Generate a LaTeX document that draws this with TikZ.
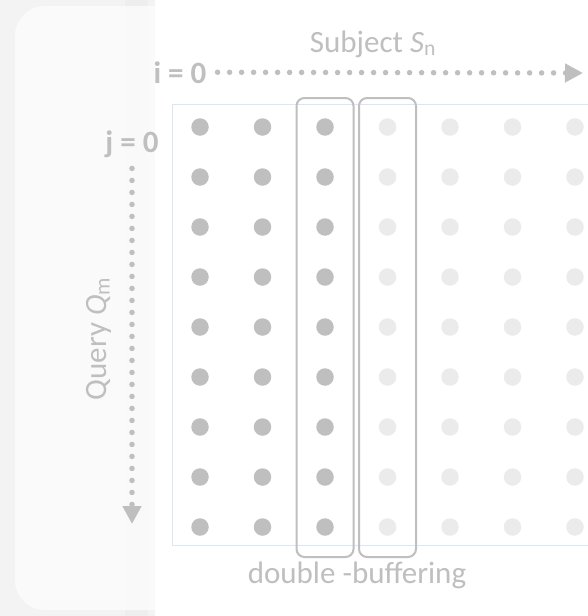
\documentclass[tikz,border=0pt]{standalone}
\usepackage{fontspec}
\setmainfont{Carlito}
\usetikzlibrary{arrows.meta}
\definecolor{dotgrey}{HTML}{BFBFBF}
\definecolor{dotpale}{HTML}{EBEBEB}
\definecolor{frameblue}{HTML}{DCE6F2}
\definecolor{panelgrey}{HTML}{F3F3F3}
\definecolor{bandgrey}{HTML}{EEEEEE}
\newcommand{\lblsize}{\fontsize{31}{36}\selectfont}

\begin{document}
\begin{tikzpicture}[x=1pt,y=-1pt,
	cell/.style={circle,inner sep=0pt,minimum size=17.5pt},
	colbox/.style={draw=dotgrey,line width=2pt,rounded corners=8pt},
	lbl/.style={text=dotgrey,inner sep=2pt,font=\lblsize},
	idx/.style={lbl,font=\lblsize\bfseries},
	dotline/.style={draw=dotgrey,line width=5.5pt,line cap=round,
		dash pattern=on 0pt off 12pt,
		-{Triangle[length=18pt,width=18pt]}}]
	\useasboundingbox (0,0) rectangle (587,616);
	% backdrop
	\fill[white] (0,0) rectangle (587,616);
	\fill[panelgrey] (0,0) rectangle (155,616);
	\fill[bandgrey] (125,0) rectangle (148,616);
	\fill[white,opacity=0.65,rounded corners=30pt] (15,6) rectangle (640,610);

	% grid of cells
	\draw[frameblue,line width=1pt] (172,104) rectangle (620,545);
	\foreach \r in {1,...,9}{
		\foreach \c in {1,...,7}{
			\ifnum\c<4 \def\dc{dotgrey}\else\def\dc{dotpale}\fi
			\node[cell,fill=\dc] at ({137.5+62.5*\c},{77+50*\r})(d-\r-\c){};
		}
	}
	\draw[colbox] ([shift={(-28.5,-29)}]d-1-3.center) rectangle ([shift={(28.5,30)}]d-9-3.center);
	\draw[colbox] ([shift={(-28.5,-29)}]d-1-4.center) rectangle ([shift={(28.5,30)}]d-9-4.center);

	% labels
	\node[idx,anchor=base] at (180,83)(i0){i = 0};
	\node[idx,anchor=base] at (132,152)(j0){j = 0};
	\node[lbl,anchor=base] at (373,52)(subj){Subject \textit{S}\textsubscript{n}};
	\node[lbl,anchor=base,rotate=90] at (106,339)(qry){Query \textit{Q}\textsubscript{m}};
	\node[lbl,anchor=base] at (357,583)(dbuf){double -buffering};

	\coordinate (iend) at (583,73);
	\coordinate (jend) at (132,524);
	\draw[dotline] ([shift={(9,0)}]i0.east) -- (iend);
	\draw[dotline] ([shift={(0,9)}]j0.south) -- (jend);
\end{tikzpicture}
\end{document}
